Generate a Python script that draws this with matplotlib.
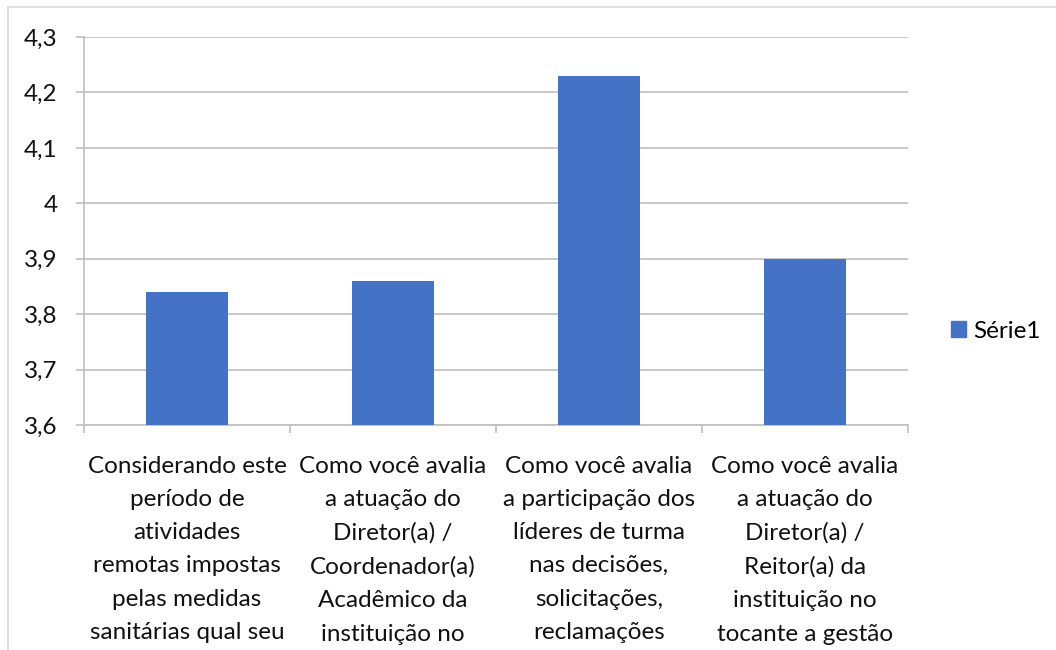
import matplotlib
matplotlib.use("Agg")
import matplotlib.pyplot as plt
from matplotlib.lines import Line2D
from matplotlib.patches import Patch

categories = [
    "Considerando este\nperíodo de\natividades\nremotas impostas\npelas medidas\nsanitárias qual seu",
    "Como você avalia\na atuação do\nDiretor(a) /\nCoordenador(a)\nAcadêmico da\ninstituição no",
    "Como você avalia\na participação dos\nlíderes de turma\nnas decisões,\nsolicitações,\nreclamações",
    "Como você avalia\na atuação do\nDiretor(a) /\nReitor(a) da\ninstituição no\ntocante a gestão",
]
values = [3.84, 3.86, 4.23, 3.90]
yticks = [3.6, 3.7, 3.8, 3.9, 4.0, 4.1, 4.2, 4.3]
ytick_labels = ["3,6", "3,7", "3,8", "3,9", "4", "4,1", "4,2", "4,3"]
series_name = "Série1"

plt.rcParams['font.family'] = ['Lato', 'DejaVu Sans']
blue = "#4472C4"
grid = "#BFBFBF"
fs = 17.5

fig = plt.figure(figsize=(10.56, 6.5), dpi=100)
ax = fig.add_axes([84/1056, 1-425/650, (908-84)/1056, (425-37)/650])

x = list(range(len(values)))
ax.bar(x, values, width=0.4, color=blue, zorder=3)
ax.set_xlim(-0.5, len(values) - 0.5)
ax.set_ylim(3.6, 4.3)

ax.set_yticks(yticks)
ax.set_yticklabels(ytick_labels, fontsize=fs, color="#111111")
ax.yaxis.grid(True, color=grid, linewidth=1.2, zorder=0)
ax.tick_params(axis='y', length=6, width=1.2, color=grid, pad=13)

ax.set_xticks(x)
ax.set_xticklabels(categories, fontsize=fs, color="#111111", linespacing=1.72)
ax.tick_params(axis='x', length=0, pad=22)
ax.set_xticks([i - 0.5 for i in range(len(values) + 1)], minor=True)
ax.tick_params(axis='x', which='minor', length=6, width=1.2, color=grid)

for s in ['top', 'right']:
    ax.spines[s].set_visible(False)
for s in ['left', 'bottom']:
    ax.spines[s].set_color(grid)
    ax.spines[s].set_linewidth(1.2)

fig.legend(handles=[Patch(color=blue, label=series_name)], loc='center left',
           bbox_to_anchor=(951/1056, 1-331/650), frameon=False, fontsize=fs,
           handlelength=0.6, handleheight=0.6, handletextpad=0.3, borderaxespad=0,
           borderpad=0)

# outer chart border (only left and top visible in the crop)
fig.add_artist(Line2D([8/1056, 8/1056], [0, 1-7/650], color="#D9D9D9", linewidth=1.2, transform=fig.transFigure))
fig.add_artist(Line2D([8/1056, 1], [1-7/650, 1-7/650], color="#D9D9D9", linewidth=1.2, transform=fig.transFigure))

fig.savefig("out.png", dpi=100)
